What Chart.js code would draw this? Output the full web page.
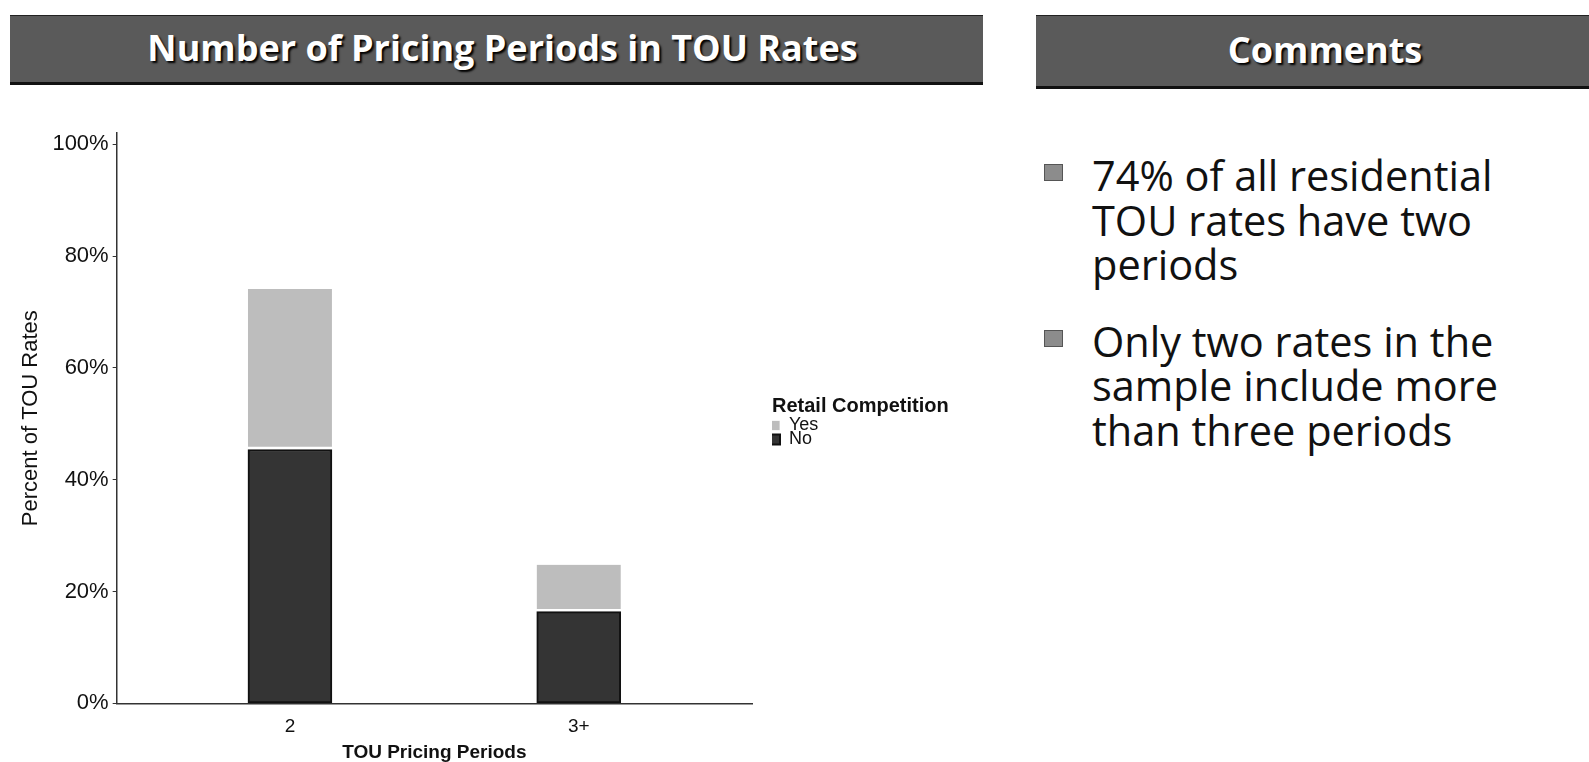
<!DOCTYPE html>
<html>
<head>
<meta charset="utf-8">
<script src="https://cdn.jsdelivr.net/npm/chart.js@4.4.0/dist/chart.umd.min.js"></script>
<style>
    html, body { margin: 0; padding: 0; background: #fff; }
    body { width: 1589px; height: 762px; position: relative; overflow: hidden; }
    .hdr {
        position: absolute;
        background: #5a5a5a;
        border-top: 1px solid #222;
        border-bottom: 3px solid #111;
        color: #fff;
        font-family: 'Open Sans', Lato, sans-serif;
        font-weight: bold;
        text-align: center;
        text-shadow: 2px 2px 2px #000;
        box-sizing: border-box;
        white-space: nowrap;
    }
    #hdrChart { left: 10px; top: 15px; width: 973px; height: 70px; font-size: 36px; line-height: 64px; padding-left: 12px; }
    #hdrComments { left: 1036px; top: 15px; width: 578px; height: 74px; font-size: 36px; line-height: 68px; }
    #chartBox { position: absolute; left: 0; top: 103px; width: 1000px; height: 662px; }
    #comments {
        position: absolute; left: 1044px; top: 153px; width: 545px;
        font-family: 'Open Sans', Lato, sans-serif; font-size: 41.5px; line-height: 44.5px; color: #111;
        white-space: nowrap;
    }
    #comments p { margin: 0 0 32px 0; padding-left: 48px; position: relative; }
    #comments p::before {
        content: ''; position: absolute; left: 0; top: 11px; width: 17px; height: 15px;
        background: #8c8c8c; border: 1px solid #555;
    }
</style>
</head>
<body>
<div class="hdr" id="hdrChart">Number of Pricing Periods in TOU Rates</div>
<div class="hdr" id="hdrComments">Comments</div>
<div id="chartBox"><canvas id="touChart"></canvas></div>
<div id="comments">
    <p>74% of all residential<br>TOU rates have two<br>periods</p>
    <p>Only two rates in the<br>sample include more<br>than three periods</p>
</div>
<script>
// Data
const categories = ['2', '3+'];
const noValues = [45.4, 16.4];
const yesValues = [28.7, 8.4];
const yTickValues = [0, 20, 40, 60, 80, 100];

const colors = {
    yes: '#bdbdbd',
    no: '#343434',
    axis: '#333'
};

const font = "'Liberation Sans', Arial, sans-serif";

// bars sit on a numeric axis so the category padding matches the original
const toPoints = vals => vals.map((v, i) => ({ x: i + 1, y: v }));

// Chart.js sizes a vertical legend from its items only; keep room for the title
const legendMinWidth = 205;
const legendWidthPlugin = {
    id: 'legendWidth',
    afterInit(chart) {
        const legend = chart.legend;
        const baseFit = legend.fit;
        legend.fit = function () {
            baseFit.call(this);
            this.width = Math.max(this.width, legendMinWidth);
        };
    }
};

const ctx = document.getElementById('touChart').getContext('2d');
new Chart(ctx, {
    type: 'bar',
    data: {
        datasets: [
            {
                label: 'No',
                data: toPoints(noValues),
                backgroundColor: colors.no,
                borderColor: '#111',
                borderWidth: 2,
                borderSkipped: false,
                barThickness: 84
            },
            {
                label: 'Yes',
                data: toPoints(yesValues),
                backgroundColor: colors.yes,
                borderColor: '#fff',
                borderWidth: { top: 0, left: 0, right: 0, bottom: 3 },
                borderSkipped: false,
                barThickness: 84
            }
        ]
    },
    plugins: [legendWidthPlugin],
    options: {
        responsive: true,
        maintainAspectRatio: false,
        animation: false,
        layout: { padding: { left: 18, top: 30, right: 23, bottom: 1 } },
        scales: {
            x: {
                type: 'linear',
                stacked: true,
                offset: false,
                min: 0.4,
                max: 2.6,
                afterBuildTicks: axis => { axis.ticks = categories.map((c, i) => ({ value: i + 1 })); },
                ticks: {
                    callback: v => categories[v - 1],
                    font: { family: font, size: 19 },
                    color: '#111',
                    padding: 12,
                    maxRotation: 0
                },
                grid: { display: false, drawTicks: false },
                border: { display: true, color: colors.axis, width: 1.5 },
                title: {
                    display: true,
                    text: 'TOU Pricing Periods',
                    font: { family: font, size: 19, weight: 'bold' },
                    color: '#111',
                    padding: { top: -9, bottom: 0 }
                }
            },
            y: {
                stacked: true,
                min: 0,
                max: 102,
                afterBuildTicks: axis => { axis.ticks = yTickValues.map(v => ({ value: v })); },
                ticks: {
                    callback: v => v + '%',
                    font: { family: font, size: 22 },
                    color: '#111',
                    padding: 4
                },
                grid: { drawOnChartArea: false, tickLength: 4, color: colors.axis },
                border: { display: true, color: colors.axis, width: 1.5 },
                title: {
                    display: true,
                    text: 'Percent of TOU Rates',
                    font: { family: font, size: 22 },
                    color: '#111',
                    padding: { top: 0, bottom: 4 }
                }
            },
            // empty axis that only keeps the gap between the plot and the legend
            gap: {
                type: 'linear',
                position: 'right',
                grid: { display: false },
                border: { display: false },
                ticks: { display: false },
                afterFit: scale => { scale.width = 20; }
            }
        },
        plugins: {
            tooltip: { enabled: false },
            legend: {
                position: 'right',
                reverse: true,
                align: 'center',
                title: {
                    display: true,
                    text: 'Retail Competition',
                    position: 'start',
                    font: { family: font, size: 20, weight: 'bold' },
                    color: '#111',
                    padding: { top: -56, bottom: 0 }
                },
                labels: {
                    boxWidth: 12,
                    boxHeight: 10,
                    padding: -4,
                    font: { family: font, size: 18 },
                    color: '#111'
                }
            }
        }
    }
});
</script>
</body>
</html>
